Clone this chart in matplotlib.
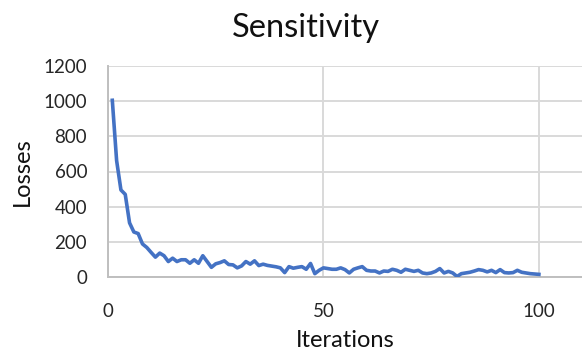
import matplotlib
matplotlib.use("Agg")
import matplotlib.pyplot as plt

plt.rcParams['font.family'] = ['Lato', 'DejaVu Sans']

iterations = list(range(1, 101))
losses = [1005, 662, 495, 470, 308, 256, 247, 188, 168, 140,
          113, 136, 121, 88, 107, 88, 98, 98, 78, 98,
          78, 121, 88, 55, 75, 82, 92, 71, 69, 52,
          63, 88, 73, 92, 65, 73, 66, 62, 58, 52,
          25, 59, 50, 55, 59, 44, 77, 19, 38, 52,
          48, 44, 44, 52, 42, 23, 44, 52, 59, 38,
          34, 34, 23, 34, 32, 44, 38, 27, 44, 38,
          32, 38, 23, 19, 23, 32, 48, 23, 32, 23,
          3, 19, 23, 27, 34, 42, 38, 29, 38, 25,
          42, 25, 23, 25, 38, 27, 23, 19, 17, 15]

xticks = [0, 50, 100]
yticks = [0, 200, 400, 600, 800, 1000, 1200]

fig = plt.figure(figsize=(5.82, 3.51), dpi=100)
ax = fig.add_axes([108 / 582, 1 - 277 / 351, 1 - 108 / 582, (277 - 66) / 351])

ax.plot(iterations, losses, color='#4472C4', linewidth=2.6, zorder=3)

ax.set_xlim(0, 110)
ax.set_ylim(0, 1200)
ax.set_xticks(xticks)
ax.set_yticks(yticks)
ax.grid(True, color='#d9d9d9', linewidth=1.4)
ax.set_axisbelow(True)

for side in ['top', 'right']:
    ax.spines[side].set_visible(False)
for side in ['left', 'bottom']:
    ax.spines[side].set_color('#bfbfbf')
    ax.spines[side].set_linewidth(1.4)

ax.tick_params(length=0, labelsize=13.5, labelcolor='#262626')
ax.tick_params(axis='y', pad=15)
ax.tick_params(axis='x', pad=19)

# title is placed over the whole chart, not the axes
fig.text(306 / 582, 1 - 28 / 351, 'Sensitivity', fontsize=23.5, color='#111111',
         ha='center', va='center')
ax.set_xlabel('Iterations', fontsize=17, color='#111111', labelpad=7)
ax.set_ylabel('Losses', fontsize=17, color='#111111', labelpad=8)

fig.savefig('out.png', dpi=100)
